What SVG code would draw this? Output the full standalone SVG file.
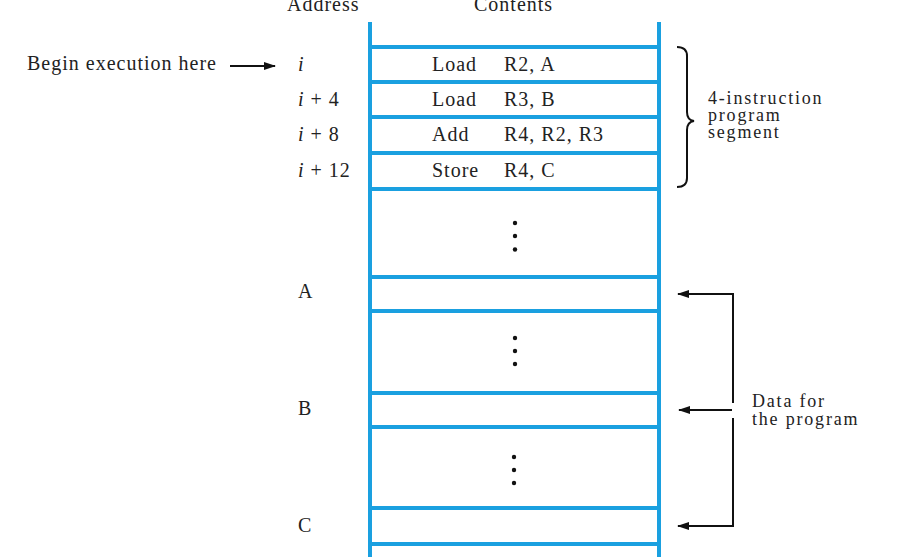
<svg xmlns="http://www.w3.org/2000/svg" width="911" height="557" viewBox="0 0 911 557">
<style>
text{font-family:"Liberation Serif","Times New Roman",serif;font-size:20px;letter-spacing:1px;fill:#222}
text.sm{font-size:18px;letter-spacing:1.8px}
.it{font-style:italic}
.mem{stroke:#1aa0e0;stroke-width:4;fill:none}
.conn{stroke:#111;stroke-width:2;fill:none}
.dot{fill:#111}
</style>
<defs>
<marker id="ah" viewBox="0 0 12 8" refX="11" refY="4" markerWidth="12" markerHeight="8" markerUnits="userSpaceOnUse" orient="auto">
<path d="M0,0 L12,4 L0,8 Z" fill="#111"/>
</marker>
</defs>
<rect width="911" height="557" fill="#fff"/>
<g id="headers">
<text x="287" y="11">Address</text>
<text x="474" y="11">Contents</text>
</g>
<g id="memory">
<line class="mem" x1="370" y1="22" x2="370" y2="557"/>
<line class="mem" x1="659" y1="22" x2="659" y2="557"/>
<line class="mem" x1="370" y1="47" x2="659" y2="47"/>
<line class="mem" x1="370" y1="82" x2="659" y2="82"/>
<line class="mem" x1="370" y1="117" x2="659" y2="117"/>
<line class="mem" x1="370" y1="153" x2="659" y2="153"/>
<line class="mem" x1="370" y1="189" x2="659" y2="189"/>
<line class="mem" x1="370" y1="277" x2="659" y2="277"/>
<line class="mem" x1="370" y1="311" x2="659" y2="311"/>
<line class="mem" x1="370" y1="393" x2="659" y2="393"/>
<line class="mem" x1="370" y1="427" x2="659" y2="427"/>
<line class="mem" x1="370" y1="508" x2="659" y2="508"/>
<line class="mem" x1="370" y1="544" x2="659" y2="544"/>
</g>
<g id="instr-i">
<text class="it" x="298" y="71">i</text>
<text x="432" y="71">Load</text>
<text x="504" y="71">R2, A</text>
</g>
<g id="instr-i4">
<text x="298" y="106"><tspan class="it">i</tspan> + 4</text>
<text x="432" y="106">Load</text>
<text x="504" y="106">R3, B</text>
</g>
<g id="instr-i8">
<text x="298" y="141"><tspan class="it">i</tspan> + 8</text>
<text x="432" y="141">Add</text>
<text x="504" y="141">R4, R2, R3</text>
</g>
<g id="instr-i12">
<text x="298" y="177"><tspan class="it">i</tspan> + 12</text>
<text x="432" y="177">Store</text>
<text x="504" y="177">R4, C</text>
</g>
<g id="ellipsis">
<circle class="dot" cx="515" cy="223" r="2.2"/>
<circle class="dot" cx="515" cy="236" r="2.2"/>
<circle class="dot" cx="515" cy="249.5" r="2.2"/>
<circle class="dot" cx="515" cy="338" r="2.2"/>
<circle class="dot" cx="515" cy="351" r="2.2"/>
<circle class="dot" cx="515" cy="364" r="2.2"/>
<circle class="dot" cx="514" cy="457" r="2.2"/>
<circle class="dot" cx="514" cy="470" r="2.2"/>
<circle class="dot" cx="514" cy="483" r="2.2"/>
</g>
<g id="data-labels">
<text x="298" y="298">A</text>
<text x="298" y="415">B</text>
<text x="298" y="532">C</text>
</g>
<g id="begin-label">
<text x="27" y="70">Begin execution here</text>
</g>
<g id="segment-label">
<path class="conn" stroke-width="1.6" d="M677,47 Q687,47 687,56 L687,112 Q687,120 694,121 Q687,122 687,130 L687,178 Q687,187 677,187"/>
<text class="sm" x="708" y="104">4-instruction</text>
<text class="sm" x="708" y="121">program</text>
<text class="sm" x="708" y="138">segment</text>
</g>
<g id="data-label">
<text class="sm" x="752" y="407">Data for</text>
<text class="sm" x="752" y="425">the program</text>
</g>
<g id="connectors">
<line class="conn" x1="230" y1="66" x2="275" y2="66" marker-end="url(#ah)"/>
<polyline class="conn" points="733,403 733,294 678,294" marker-end="url(#ah)"/>
<line class="conn" x1="732" y1="410" x2="679" y2="410" marker-end="url(#ah)"/>
<polyline class="conn" points="733,418 733,526 678,526" marker-end="url(#ah)"/>
</g>
</svg>
